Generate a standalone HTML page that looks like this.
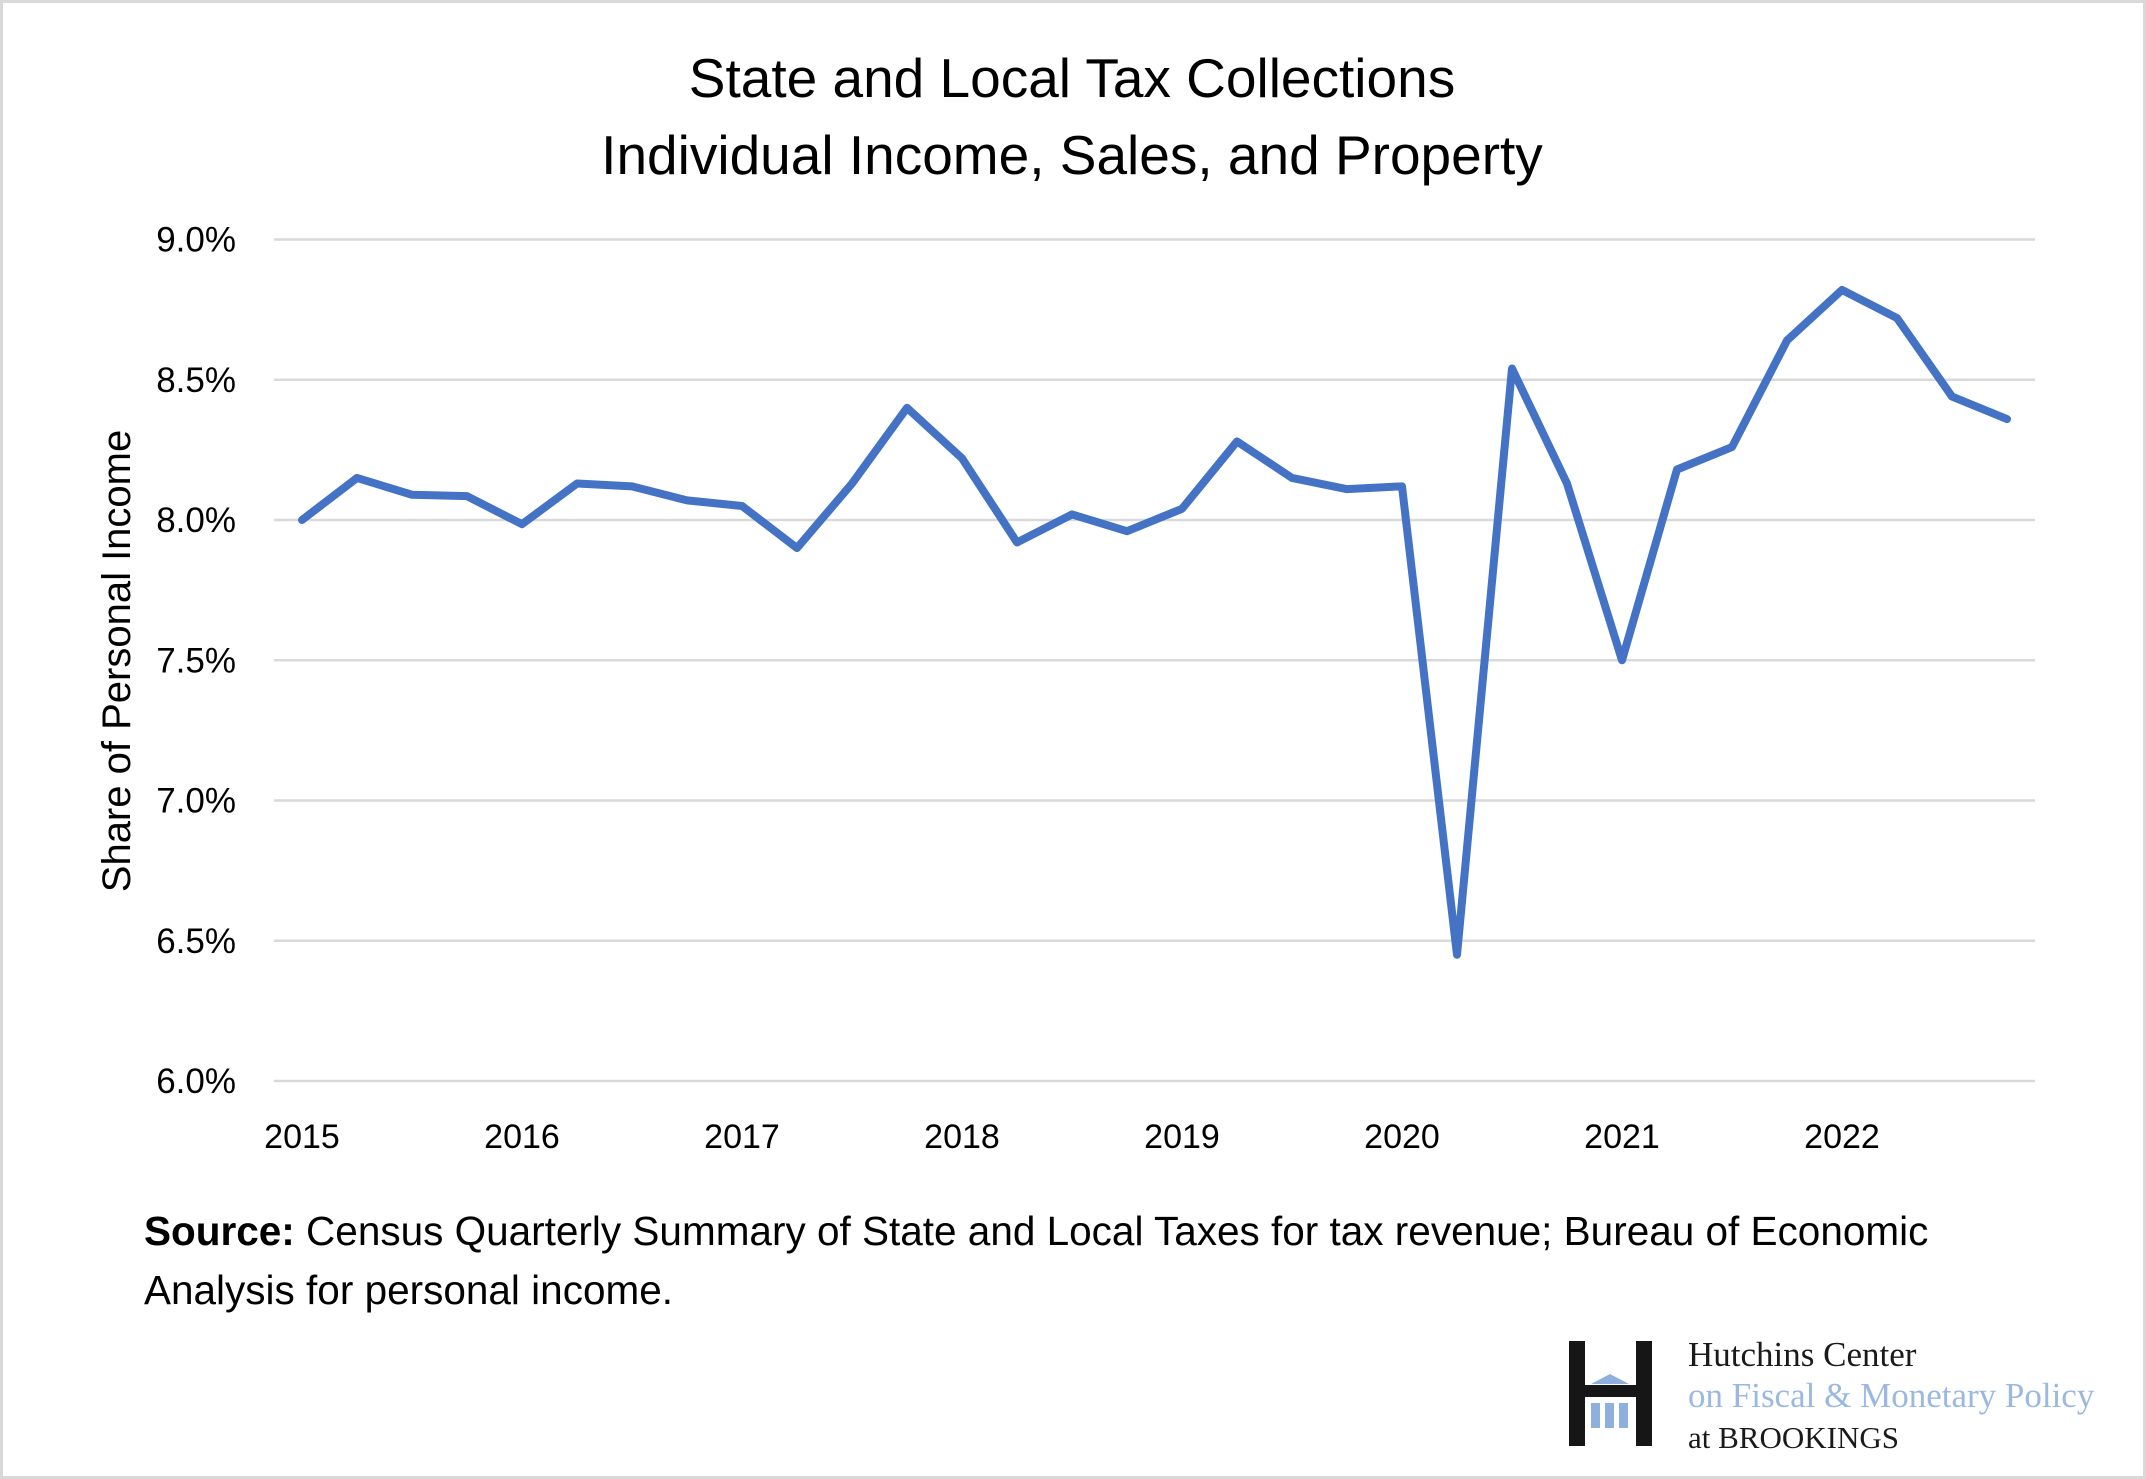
<!DOCTYPE html>
<html><head><meta charset="utf-8"><style>
html,body{margin:0;padding:0;background:#fff}
svg{display:block}
</style></head><body>
<svg width="2146" height="1479" viewBox="0 0 2146 1479" xmlns="http://www.w3.org/2000/svg" font-family="'Liberation Sans', sans-serif">
<rect x="1.5" y="1.5" width="2143" height="1476" fill="#fff" stroke="#d9d9d9" stroke-width="3"/>
<text x="1072" y="97" text-anchor="middle" font-size="55" fill="#000">State and Local Tax Collections</text>
<text x="1072" y="174" text-anchor="middle" font-size="55" fill="#000">Individual Income, Sales, and Property</text>
<g id="grid"></g>
<g id="ylabels"></g>
<g id="xlabels"></g>
<text transform="translate(130,661) rotate(-90)" text-anchor="middle" font-size="40" fill="#000">Share of Personal Income</text>
<polyline id="line" fill="none" stroke="#4472c4" stroke-width="8" stroke-linejoin="round" stroke-linecap="round"/>
<text x="144" y="1245" font-size="40.5" fill="#000"><tspan font-weight="bold">Source:</tspan> Census Quarterly Summary of State and Local Taxes for tax revenue; Bureau of Economic</text>
<text x="144" y="1304" font-size="40.5" fill="#000">Analysis for personal income.</text>
<g>
<rect x="1569" y="1341" width="16" height="105" fill="#161616"/>
<rect x="1636" y="1341" width="16" height="105" fill="#161616"/>
<rect x="1585" y="1385" width="51" height="12" fill="#161616"/>
<polygon points="1591,1384 1610,1374 1629,1384" fill="#8fb0dc"/>
<rect x="1591" y="1403" width="9" height="25" fill="#8fb0dc"/>
<rect x="1605" y="1403" width="9" height="25" fill="#8fb0dc"/>
<rect x="1619" y="1403" width="9" height="25" fill="#8fb0dc"/>
<text x="1688" y="1366" font-family="'Liberation Serif', serif" font-size="35" fill="#1a1a1a">Hutchins Center</text>
<text x="1688" y="1407" font-family="'Liberation Serif', serif" font-size="35" fill="#9bb8e0">on Fiscal &amp; Monetary Policy</text>
<text x="1688" y="1448" font-family="'Liberation Serif', serif" font-size="31" fill="#1a1a1a">at BROOKINGS</text>
</g>
<script>
var yTicks=[6.0,6.5,7.0,7.5,8.0,8.5,9.0];
var yTickLabels=["6.0%","6.5%","7.0%","7.5%","8.0%","8.5%","9.0%"];
var years=["2015","2016","2017","2018","2019","2020","2021","2022"];
var values=[8.00,8.15,8.09,8.085,7.985,8.13,8.12,8.07,8.05,7.90,8.13,8.40,8.22,7.92,8.02,7.96,8.04,8.28,8.15,8.11,8.12,6.45,8.54,8.13,7.50,8.18,8.26,8.64,8.82,8.72,8.44,8.36];
var NS="http://www.w3.org/2000/svg";
function yS(v){return 1081-(v-6)/3*841.5;}
function xS(i){return 302+i*55;}
var grid=document.getElementById('grid'),yl=document.getElementById('ylabels'),xl=document.getElementById('xlabels');
yTicks.forEach(function(t,k){
 var l=document.createElementNS(NS,'line');
 
 
 l.setAttribute('x1',274);l.setAttribute('x2',2035);l.setAttribute('y1',yS(t));l.setAttribute('y2',yS(t));
 l.setAttribute('stroke','#d9d9d9');l.setAttribute('stroke-width','2.5');grid.appendChild(l);
 var tx=document.createElementNS(NS,'text');
 
 
 tx.setAttribute('x',236);tx.setAttribute('y',yS(t)+12);tx.setAttribute('text-anchor','end');tx.setAttribute('font-size','35');
 tx.textContent=yTickLabels[k];yl.appendChild(tx);
});
years.forEach(function(y,k){
 var tx=document.createElementNS(NS,'text');
 
 
 tx.setAttribute('x',xS(k*4));tx.setAttribute('y',1148);tx.setAttribute('text-anchor','middle');tx.setAttribute('font-size','34');
 tx.textContent=y;xl.appendChild(tx);
});
document.getElementById('line').setAttribute('points',values.map(function(v,i){return xS(i)+','+yS(v);}).join(' '));
</script>
</svg>
</body></html>
